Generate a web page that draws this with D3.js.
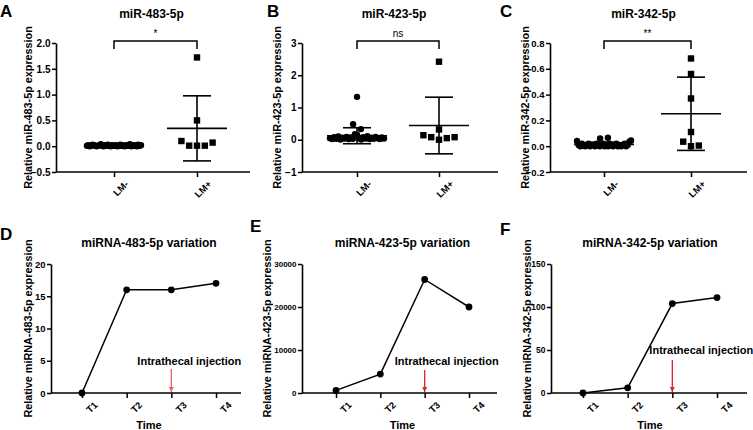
<!DOCTYPE html>
<html>
<head>
<meta charset="utf-8">
<script src="https://cdn.jsdelivr.net/npm/d3@7"></script>
<style>
  body { margin: 0; background: #fff; }
  svg text { font-family: "Liberation Sans", Arial, sans-serif; fill: #000; }
</style>
</head>
<body>
<div id="chart"></div>
<script>
// categories
const groups = ["LM-", "LM+"];
const timepoints = ["T1", "T2", "T3", "T4"];

// scatter data (relative expression per patient)
const mir483Neg = [0.01, 0.02, 0.00, 0.01, 0.03, 0.02, 0.01, 0.00, 0.01, 0.02, 0.04, 0.01, 0.00, 0.02,
    0.01, 0.03, 0.01, 0.00, 0.02, 0.01, 0.01, 0.02, 0.00, 0.01, 0.03, 0.01, 0.02, 0.00, 0.01, 0.02,
    0.01, 0.04, 0.00, 0.01, 0.02, 0.01, 0.00, 0.03, 0.01, 0.02];
const mir483Pos = [1.72, 0.50, 0.10, 0.01, 0.01, 0.01, 0.07];
const mir423Neg = [0.05, 0.02, 0.08, 0.03, 0.10, 0.01, 0.06, 0.04, 0.09, 0.02, 0.07, 0.03, 0.17, 0.16,
    0.05, 0.01, 0.08, 0.04, 0.11, 0.02, 0.06, 0.03, 0.09, 0.05, 0.02, 0.07, 1.33, 0.48, 0.33, 0.04];
const mir423Pos = [2.42, 0.32, 0.14, 0.08, 0.00, 0.05, 0.08];
const mir342Neg = [0.06, 0.04, 0.01, 0.00, 0.02, 0.01, 0.00, 0.01, 0.02, 0.00, 0.01, 0.065, 0.01, 0.00,
    0.02, 0.01, 0.00, 0.01, 0.02, 0.00, 0.01, 0.00, 0.02, 0.01, 0.00, 0.01, 0.02, 0.00, 0.01, 0.00,
    0.01, 0.02, 0.00, 0.01, 0.035, 0.045];
const mir342Pos = [0.68, 0.56, 0.37, 0.11, 0.035, 0.00, 0.005];

// time course data
const var483 = [0, 16, 16, 17];
const var423 = [600, 4400, 26400, 20000];
const var342 = [0, 6, 104, 111];

// tick labels
const ticks483 = [-0.5, 0, 0.5, 1.0, 1.5, 2.0];
const ticks423 = [-1, 0, 1, 2, 3];
const ticks342 = [-0.2, 0, 0.2, 0.4, 0.6, 0.8];
const ticksVar483 = [0, 5, 10, 15, 20];
const ticksVar423 = [0, 10000, 20000, 30000];
const ticksVar342 = [0, 50, 100, 150];

const W = 753, H = 430;
const svg = d3.select("#chart").append("svg")
    .attr("width", W).attr("height", H)
    .attr("viewBox", `0 0 ${W} ${H}`);

svg.append("defs").append("marker")
    .attr("id", "arrowhead")
    .attr("viewBox", "0 0 10 10")
    .attr("refX", 10).attr("refY", 5)
    .attr("markerWidth", 4).attr("markerHeight", 4)
    .attr("markerUnits", "strokeWidth")
    .attr("orient", "auto")
    .append("path")
    .attr("d", "M0,0 L10,5 L0,10 z")
    .attr("fill", "context-stroke");

const styleAxis = (g, size) => {
    g.select(".domain").attr("stroke", "#000").attr("stroke-width", 1.6);
    g.selectAll(".tick line").attr("stroke", "#000").attr("stroke-width", 1.5);
    g.selectAll(".tick text")
        .attr("fill", "#000")
        .attr("font-size", size).attr("font-weight", "bold")
        .attr("font-family", "'Liberation Sans', Arial, sans-serif");
};

// put points of similar value side by side, like a column scatter
const spread = (vals, y, maxHalf, step, markerSize) => {
    const items = vals.map((v, i) => ({ v, i, py: y(v) }));
    const sorted = items.slice().sort((a, b) => b.py - a.py);
    const rows = [];
    sorted.forEach(p => {
        const row = rows.find(r => Math.abs(r.start - p.py) < markerSize);
        if (row) row.pts.push(p); else rows.push({ start: p.py, pts: [p] });
    });
    rows.forEach(r => {
        r.pts.sort((a, b) => a.i - b.i);
        const n = r.pts.length;
        const s = n > 1 ? Math.min(step, 2 * maxHalf / (n - 1)) : 0;
        r.pts.forEach((p, j) => { p.dx = (j - (n - 1) / 2) * s; });
    });
    return items;
};

const drawScatter = (cfg) => {
    const top = 43, bottom = 172;
    const g = svg.append("g").attr("transform", `translate(${cfg.x0},0)`);

    const y = d3.scaleLinear()
        .domain([cfg.ticks[0], cfg.ticks[cfg.ticks.length - 1]])
        .range([bottom, top]);
    const x = d3.scalePoint().domain(groups).range(cfg.xRange);

    g.append("g")
        .call(d3.axisLeft(y).tickValues(cfg.ticks).tickFormat(d3.format(cfg.fmt))
            .tickSize(4).tickSizeOuter(0).tickPadding(1.5))
        .call(styleAxis, cfg.tickFont);

    const xa = g.append("g").attr("transform", `translate(0,${bottom})`)
        .call(d3.axisBottom(x).tickSize(5).tickSizeOuter(0))
        .call(styleAxis, 9.5);
    xa.select(".domain").remove();
    xa.selectAll(".tick text")
        .attr("text-anchor", "end")
        .attr("transform", "translate(4,2) rotate(-45)")
        .attr("dy", "0.75em");
    g.append("line")
        .attr("x1", 0).attr("x2", cfg.axisW)
        .attr("y1", bottom).attr("y2", bottom)
        .attr("stroke", "#000").attr("stroke-width", 1.6);

    // points
    const neg = spread(cfg.neg, y, 27, 7.8, 7);
    g.selectAll("circle.pt").data(neg).join("circle")
        .attr("class", "pt")
        .attr("cx", d => x("LM-") + d.dx)
        .attr("cy", d => d.py)
        .attr("r", 3.2)
        .attr("fill", "#000");

    const pos = spread(cfg.pos, y, 27, 7.8, 7);
    g.selectAll("rect.pt").data(pos).join("rect")
        .attr("class", "pt")
        .attr("x", d => x("LM+") + d.dx - 3.2)
        .attr("y", d => d.py - 3.2)
        .attr("width", 6.4).attr("height", 6.4)
        .attr("fill", "#000");

    // mean +- SD
    const stats = groups.map((k, i) => {
        const v = i === 0 ? cfg.neg : cfg.pos;
        return { k, m: d3.mean(v), sd: d3.deviation(v) };
    });
    const eb = g.selectAll("g.eb").data(stats).join("g").attr("class", "eb")
        .attr("stroke", "#000").attr("stroke-width", 1.6);
    eb.append("line")
        .attr("x1", d => x(d.k) - 30).attr("x2", d => x(d.k) + 30)
        .attr("y1", d => y(d.m)).attr("y2", d => y(d.m));
    eb.append("line")
        .attr("x1", d => x(d.k)).attr("x2", d => x(d.k))
        .attr("y1", d => y(d.m - d.sd)).attr("y2", d => y(d.m + d.sd));
    eb.append("line")
        .attr("x1", d => x(d.k) - 14).attr("x2", d => x(d.k) + 14)
        .attr("y1", d => y(d.m + d.sd)).attr("y2", d => y(d.m + d.sd));
    eb.append("line")
        .attr("x1", d => x(d.k) - 14).attr("x2", d => x(d.k) + 14)
        .attr("y1", d => y(d.m - d.sd)).attr("y2", d => y(d.m - d.sd));

    // significance bracket
    const by = 41;
    g.append("path")
        .attr("d", `M${x("LM-")},${by + 8}V${by}H${x("LM+")}V${by + 8}`)
        .attr("fill", "none").attr("stroke", "#000").attr("stroke-width", 1.5);
    g.append("text")
        .attr("x", (x("LM-") + x("LM+")) / 2).attr("y", by - 4)
        .attr("text-anchor", "middle").attr("font-size", 10)
        .text(cfg.sig);

    // title, axis label, panel letter
    g.append("text")
        .attr("x", (x("LM-") + x("LM+")) / 2 - 4).attr("y", 18)
        .attr("text-anchor", "middle").attr("font-size", 12).attr("font-weight", "bold")
        .text(cfg.title);
    g.append("text")
        .attr("transform", `translate(${cfg.labelX},${(top + bottom) / 2}) rotate(-90)`)
        .attr("text-anchor", "middle").attr("font-size", 10.8).attr("font-weight", "bold")
        .text(cfg.ylabel);
    svg.append("text")
        .attr("x", cfg.letterX).attr("y", 17)
        .attr("font-size", 17).attr("font-weight", "bold")
        .text(cfg.letter);
};

const drawLine = (cfg) => {
    const top = 264, bottom = 393;
    const g = svg.append("g").attr("transform", `translate(${cfg.x0},0)`);

    const y = d3.scaleLinear()
        .domain([0, cfg.ticks[cfg.ticks.length - 1]])
        .range([bottom, top]);
    const x = d3.scalePoint().domain(timepoints).range(cfg.xRange);

    g.append("g")
        .call(d3.axisLeft(y).tickValues(cfg.ticks).tickFormat(d3.format("d"))
            .tickSize(4).tickSizeOuter(0).tickPadding(1.5))
        .call(styleAxis, cfg.tickFont);

    const xa = g.append("g").attr("transform", `translate(0,${bottom})`)
        .call(d3.axisBottom(x).tickSize(5).tickSizeOuter(0))
        .call(styleAxis, 9.5);
    xa.select(".domain").remove();
    xa.selectAll(".tick text")
        .attr("text-anchor", "end")
        .attr("transform", "translate(5,2) rotate(-45)")
        .attr("dy", "0.75em");
    g.append("line")
        .attr("x1", 0).attr("x2", cfg.axisW)
        .attr("y1", bottom).attr("y2", bottom)
        .attr("stroke", "#000").attr("stroke-width", 1.6);

    const data = timepoints.map((t, i) => ({ t, v: cfg.values[i] }));
    g.append("path")
        .datum(data)
        .attr("fill", "none").attr("stroke", "#000").attr("stroke-width", 1.5)
        .attr("d", d3.line().x(d => x(d.t)).y(d => y(d.v)));
    g.selectAll("circle.pt").data(data).join("circle")
        .attr("class", "pt")
        .attr("cx", d => x(d.t)).attr("cy", d => y(d.v))
        .attr("r", 3.4).attr("fill", "#000");

    // injection annotation at T3
    g.append("line")
        .attr("x1", x("T3")).attr("x2", x("T3"))
        .attr("y1", cfg.arrowTop).attr("y2", bottom - 1)
        .attr("stroke", cfg.arrowColor).attr("stroke-width", 1.3)
        .attr("marker-end", "url(#arrowhead)");
    g.append("text")
        .attr("x", x("T3") + cfg.noteDx).attr("y", cfg.noteY)
        .attr("text-anchor", "middle").attr("font-size", 11).attr("font-weight", "bold")
        .text("Intrathecal injection");

    const mid = (x("T1") + x("T4")) / 2;
    g.append("text")
        .attr("x", mid).attr("y", 429)
        .attr("text-anchor", "middle").attr("font-size", 11).attr("font-weight", "bold")
        .text("Time");
    g.append("text")
        .attr("x", mid).attr("y", 247)
        .attr("text-anchor", "middle").attr("font-size", 12).attr("font-weight", "bold")
        .text(cfg.title);
    g.append("text")
        .attr("transform", `translate(${cfg.labelX},${(top + bottom) / 2}) rotate(-90)`)
        .attr("text-anchor", "middle").attr("font-size", 10.8).attr("font-weight", "bold")
        .text(cfg.ylabel);
    svg.append("text")
        .attr("x", cfg.letterX).attr("y", cfg.letterY)
        .attr("font-size", 17).attr("font-weight", "bold")
        .text(cfg.letter);
};

drawScatter({ x0: 56, xRange: [58, 141], axisW: 194, ticks: ticks483, fmt: ".1f", tickFont: 10,
    neg: mir483Neg, pos: mir483Pos, sig: "*", title: "miR-483-5p",
    ylabel: "Relative miR-483-5p expression", labelX: -24, letter: "A", letterX: 0 });
drawScatter({ x0: 302, xRange: [55, 137], axisW: 196, ticks: ticks423, fmt: "d", tickFont: 10,
    neg: mir423Neg, pos: mir423Pos, sig: "ns", title: "miR-423-5p",
    ylabel: "Relative miR-423-5p expression", labelX: -21, letter: "B", letterX: 267 });
drawScatter({ x0: 550, xRange: [54, 141], axisW: 197, ticks: ticks342, fmt: ".1f", tickFont: 9.5,
    neg: mir342Neg, pos: mir342Pos, sig: "**", title: "miR-342-5p",
    ylabel: "Relative miR-342-5p expression", labelX: -21, letter: "C", letterX: 500 });

drawLine({ x0: 51, xRange: [31, 165], axisW: 190, ticks: ticksVar483, values: var483, tickFont: 9.5,
    title: "miRNA-483-5p variation", ylabel: "Relative miRNA-483-5p expression", labelX: -19,
    letter: "D", letterX: 0, letterY: 240,
    arrowTop: 369, arrowColor: "#e8606a", noteDx: 18, noteY: 365 });
drawLine({ x0: 302, xRange: [34, 167], axisW: 195, ticks: ticksVar423, values: var423, tickFont: 8,
    title: "miRNA-423-5p variation", ylabel: "Relative miRNA-423-5p expression", labelX: -31,
    letter: "E", letterX: 250, letterY: 232,
    arrowTop: 370, arrowColor: "#d42a2a", noteDx: 22, noteY: 365 });
drawLine({ x0: 551, xRange: [32, 166], axisW: 196, ticks: ticksVar342, values: var342, tickFont: 8.5,
    title: "miRNA-342-5p variation", ylabel: "Relative miRNA-342-5p expression", labelX: -20,
    letter: "F", letterX: 500, letterY: 235,
    arrowTop: 360, arrowColor: "#e0202a", noteDx: 29, noteY: 354 });
</script>
</body>
</html>
